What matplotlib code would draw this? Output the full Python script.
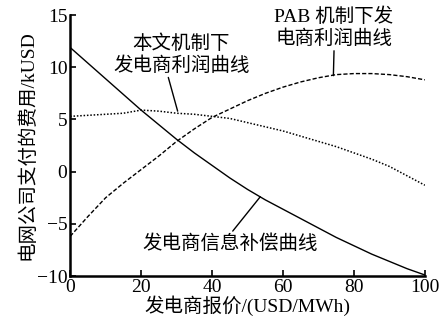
import numpy as np
import matplotlib
matplotlib.use("Agg")
import matplotlib.pyplot as plt

plt.rcParams['font.family'] = ['Liberation Serif', 'Noto Sans CJK SC']
plt.rcParams['font.weight'] = 'light'
plt.rcParams['axes.unicode_minus'] = True

# 发电商报价 (USD/MWh)
price = [0, 5, 10, 15, 20, 25, 30, 35, 40, 45, 50,
         55, 60, 65, 70, 75, 80, 85, 90, 95, 100]

# 发电商信息补偿曲线 (kUSD)
compensation = [11.9, 10.4, 8.9, 7.4, 5.9, 4.5, 3.1, 1.8, 0.6, -0.6, -1.7,
                -2.7, -3.6, -4.5, -5.4, -6.3, -7.1, -7.9, -8.6, -9.3, -9.9]

# PAB 机制下发电商利润曲线 (kUSD)
pab_profit = [-6.2, -4.3, -2.5, -1.1, 0.2, 1.5, 2.9, 4.1, 5.2, 6.0, 6.8,
              7.5, 8.1, 8.6, 9.0, 9.3, 9.4, 9.4, 9.3, 9.1, 8.8]

# 本文机制下发电商利润曲线 (kUSD)
our_profit = [5.3, 5.4, 5.5, 5.6, 5.9, 5.8, 5.6, 5.5, 5.3, 5.1, 4.7,
              4.3, 3.9, 3.4, 2.9, 2.4, 1.8, 1.2, 0.5, -0.4, -1.3]

fig = plt.figure(figsize=(4.44, 3.29), dpi=100)
ax = fig.add_axes([0.158, 0.161, 0.799, 0.793])

ax.plot(price, compensation, color='black', lw=1.0, ls='-')
ax.plot(price, pab_profit, color='black', lw=1.0, ls=(0, (3, 1.5)))
ax.plot(price, our_profit, color='black', lw=1.1, ls=(0, (1, 1.2)))

ax.set_xlim(0, 100)
ax.set_ylim(-10, 15)
ax.set_xticks([0, 20, 40, 60, 80, 100])
ax.set_yticks([-10, -5, 0, 5, 10, 15])
ax.tick_params(direction='in', length=4, width=1.2, labelsize=14, pad=2)
for s in ['top', 'right']:
    ax.spines[s].set_visible(False)
for s in ['left', 'bottom']:
    ax.spines[s].set_linewidth(1.8)

ax.set_xlabel('发电商报价/(USD/MWh)', fontsize=14, labelpad=0)
ax.set_ylabel('电网公司支付的费用/kUSD', fontsize=14, labelpad=0)

# curve labels with leader lines
ax.annotate('本文机制下\n发电商利润曲线', xy=(30.3, 5.8), xytext=(31.3, 11.25),
            ha='center', va='center', fontsize=14, linespacing=1.25,
            arrowprops=dict(arrowstyle='-', color='black', lw=1.0,
                            shrinkA=0, shrinkB=0,
                            relpos=(0.4, 0.0)))
ax.annotate('PAB 机制下发\n电商利润曲线', xy=(74.2, 9.2), xytext=(74.4, 13.8),
            ha='center', va='center', fontsize=14, linespacing=1.25,
            arrowprops=dict(arrowstyle='-', color='black', lw=1.0,
                            shrinkA=0, shrinkB=0,
                            relpos=(0.5, 0.0)))
ax.annotate('发电商信息补偿曲线', xy=(53.6, -2.4), xytext=(45.2, -6.85),
            ha='center', va='center', fontsize=14,
            arrowprops=dict(arrowstyle='-', color='black', lw=1.0,
                            shrinkA=0, shrinkB=0,
                            relpos=(0.5, 1.0)))

fig.savefig('out.png', dpi=100)
